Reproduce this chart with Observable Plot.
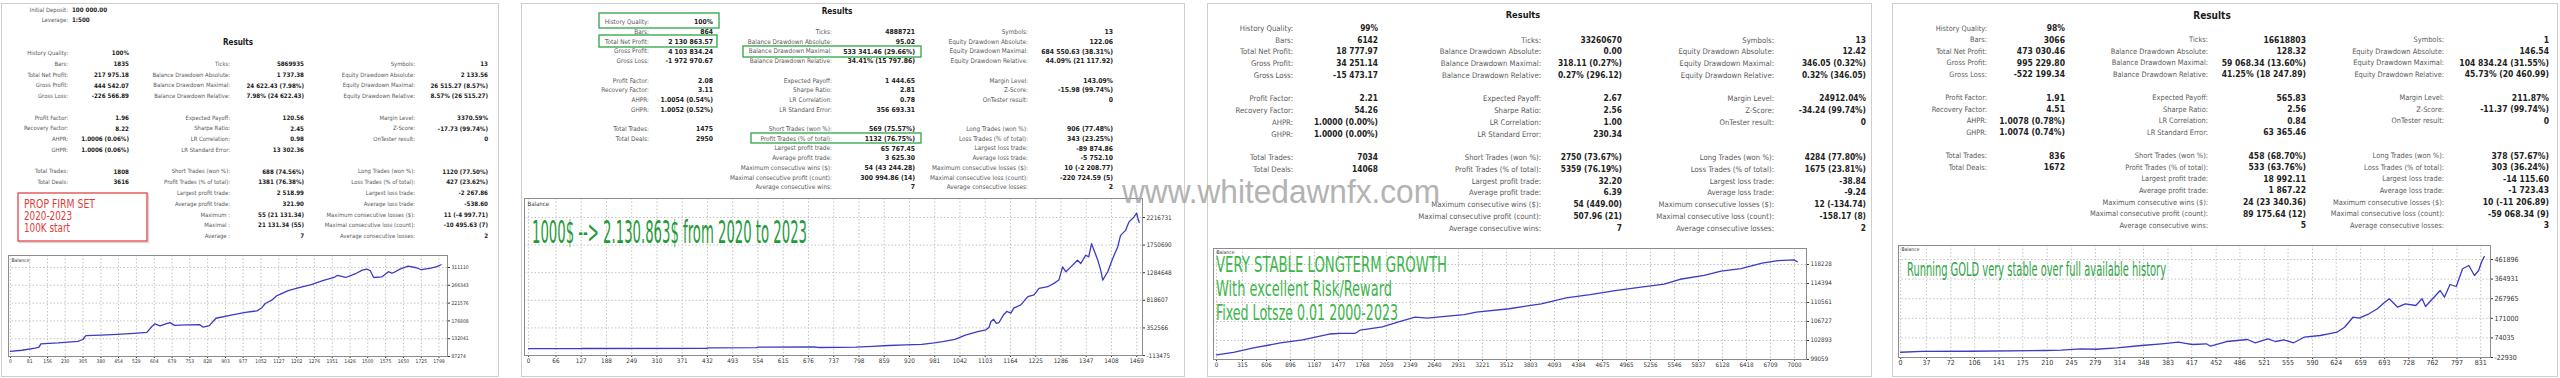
<!DOCTYPE html>
<html><head><meta charset="utf-8">
<script src="https://cdn.jsdelivr.net/npm/d3@7"></script>
<script src="https://cdn.jsdelivr.net/npm/@observablehq/plot@0.6"></script>
<style>
html,body{margin:0;padding:0;background:#fff;width:2560px;height:378px;overflow:hidden}
#root{position:relative;width:2560px;height:378px}
.panel{position:absolute;border:1px solid #cfcfcf;box-sizing:border-box;background:#fff}
.chart{position:absolute}
#overlay{position:absolute;left:0;top:0;pointer-events:none}
</style></head><body><div id="root"></div>
<script>
// ---------------- DATA ----------------
const col1Labels = ["History Quality:","Bars:","Total Net Profit:","Gross Profit:","Gross Loss:","Profit Factor:","Recovery Factor:","AHPR:","GHPR:","Total Trades:","Total Deals:",null,null,null,null,null];
const col2Labels = [null,"Ticks:","Balance Drawdown Absolute:","Balance Drawdown Maximal:","Balance Drawdown Relative:","Expected Payoff:","Sharpe Ratio:","LR Correlation:","LR Standard Error:","Short Trades (won %):","Profit Trades (% of total):","Largest profit trade:","Average profit trade:","Maximum consecutive wins ($):","Maximal consecutive profit (count):","Average consecutive wins:"];
const col2LabelsPanel1 = [null,"Ticks:","Balance Drawdown Absolute:","Balance Drawdown Maximal:","Balance Drawdown Relative:","Expected Payoff:","Sharpe Ratio:","LR Correlation:","LR Standard Error:","Short Trades (won %):","Profit Trades (% of total):","Largest profit trade:","Average profit trade:","Maximum :","Maximal :","Average :"];
const col3Labels = [null,"Symbols:","Equity Drawdown Absolute:","Equity Drawdown Maximal:","Equity Drawdown Relative:","Margin Level:","Z-Score:","OnTester result:",null,"Long Trades (won %):","Loss Trades (% of total):","Largest loss trade:","Average loss trade:","Maximum consecutive losses ($):","Maximal consecutive loss (count):","Average consecutive losses:"];

const headerLabels1 = ["Initial Deposit:","Leverage:"];
const headerValues1 = ["100 000.00","1:500"];

const p1Col1 = ["100%","1835","217 975.18","444 542.07","-226 566.89","1.96","8.22","1.0006 (0.06%)","1.0006 (0.06%)","1808","3616",null,null,null,null,null];
const p1Col2 = [null,"5869935","1 737.38","24 622.43 (7.98%)","7.98% (24 622.43)","120.56","2.45","0.98","13 302.36","688 (74.56%)","1381 (76.38%)","2 518.99","321.90","55 (21 131.34)","21 131.34 (55)","7"];
const p1Col3 = [null,"13","2 133.56","26 515.27 (8.57%)","8.57% (26 515.27)","3370.59%","-17.73 (99.74%)","0",null,"1120 (77.50%)","427 (23.62%)","-2 267.86","-538.60","11 (-4 997.71)","-10 495.63 (7)","2"];

const p2Col1 = ["100%","864","2 130 863.57","4 103 834.24","-1 972 970.67","2.08","3.11","1.0054 (0.54%)","1.0052 (0.52%)","1475","2950",null,null,null,null,null];
const p2Col2 = [null,"4888721","95.02","533 341.46 (29.66%)","34.41% (15 797.86)","1 444.65","2.81","0.78","356 693.31","569 (75.57%)","1132 (76.75%)","65 767.45","3 625.30","54 (43 244.28)","300 994.86 (14)","7"];
const p2Col3 = [null,"13","122.06","684 550.63 (38.31%)","44.09% (21 117.92)","143.09%","-15.98 (99.74%)","0",null,"906 (77.48%)","343 (23.25%)","-89 874.86","-5 752.10","10 (-2 208.77)","-220 724.59 (5)","2"];

const p3Col1 = ["99%","6142","18 777.97","34 251.14","-15 473.17","2.21","54.26","1.0000 (0.00%)","1.0000 (0.00%)","7034","14068",null,null,null,null,null];
const p3Col2 = [null,"33260670","0.00","318.11 (0.27%)","0.27% (296.12)","2.67","2.56","1.00","230.34","2750 (73.67%)","5359 (76.19%)","32.20","6.39","54 (449.00)","507.96 (21)","7"];
const p3Col3 = [null,"13","12.42","346.05 (0.32%)","0.32% (346.05)","24912.04%","-34.24 (99.74%)","0",null,"4284 (77.80%)","1675 (23.81%)","-38.84","-9.24","12 (-134.74)","-158.17 (8)","2"];

const p4Col1 = ["98%","3066","473 030.46","995 229.80","-522 199.34","1.91","4.51","1.0078 (0.78%)","1.0074 (0.74%)","836","1672",null,null,null,null,null];
const p4Col2 = [null,"16618803","128.32","59 068.34 (13.60%)","41.25% (18 247.89)","565.83","2.56","0.84","63 365.46","458 (68.70%)","533 (63.76%)","18 992.11","1 867.22","24 (23 340.36)","89 175.64 (12)","5"];
const p4Col3 = [null,"1","146.54","104 834.24 (31.55%)","45.73% (20 460.99)","211.87%","-11.37 (99.74%)","0",null,"378 (57.67%)","303 (36.24%)","-14 115.60","-1 723.43","10 (-11 206.89)","-59 068.34 (9)","3"];

// Balance curves (trade number, balance)
const p1Trades = [0,48,104,120,128,200,283,304,317,380,449,518,573,593,607,628,669,690,738,794,810,835,863,932,987,1035,1056,1070,1097,1118,1132,1166,1208,1263,1311,1359,1373,1408,1449,1477,1497,1511,1525,1559,1587,1601,1608,1635,1670,1704,1725,1760,1787,1808];
const p1Balance = [100000,103000,108500,111000,119000,121500,125500,130000,140000,141000,143000,145500,148000,162000,169500,164500,172500,165500,167000,167500,161000,165000,183500,192000,198000,202000,210000,220500,229000,240000,243500,253000,260000,268000,278000,286000,291500,286000,295500,304500,307000,303000,286000,287500,300500,297000,298000,307000,314500,310500,305500,309000,312500,317975];

const p2Trades = [0,125,130,430,436,550,556,690,700,750,790,830,870,910,950,980,1000,1030,1055,1085,1105,1112,1117,1123,1130,1136,1148,1155,1165,1172,1189,1206,1221,1233,1254,1269,1281,1290,1298,1310,1326,1334,1346,1353,1360,1375,1382,1387,1399,1411,1423,1430,1442,1450,1462,1469,1472,1475];
const p2Balance = [1000,2000,5000,9000,16000,20000,28000,30000,22000,24000,28000,42000,55000,65000,75000,100000,120000,160000,230000,290000,320000,360000,460000,500000,430000,440000,580000,630000,602000,686000,741000,881000,909000,1021000,1048000,1104000,1160000,1383000,1300000,1383000,1496000,1440000,1580000,1551000,1775000,1496000,1328000,1160000,1300000,1524000,1719000,1915000,1999000,2138000,2222000,2290000,2200000,2131863];

const p3Trades = [0,206,448,774,1043,1367,1500,1682,1742,2009,2205,2405,2553,2800,3001,3146,3545,3933,4235,4525,4828,5118,5421,5614,5905,6111,6353,6607,6800,6994,7034];
const p3Balance = [100000,100500,101400,102400,103000,104200,104350,104350,105000,105650,106650,107600,107400,107800,108100,108600,109300,110300,111500,112150,112950,113600,114250,115250,116050,116900,117400,118500,119000,119150,118778];

const p4Trades = [0,31,100,206,230,258,280,310,345,374,398,408,418,438,444,467,497,508,526,537,549,563,578,601,613,625,636,648,657,671,683,691,700,712,723,738,747,752,764,773,779,787,796,805,814,822,828,832,836];
const p4Balance = [3000,6900,8000,11700,14000,20100,18000,25000,36400,44800,52800,47000,41400,44800,32900,56200,66100,49800,69600,56200,64600,49800,77500,85900,94200,102200,126900,176400,171500,193200,218000,242700,267400,225900,242700,234300,267400,229400,275400,308500,275400,338200,328300,415900,432200,382700,407500,448500,476030];

const p1XTicks = [0,81,156,230,305,380,454,529,604,679,753,828,903,977,1052,1127,1202,1276,1351,1426,1500,1575,1650,1725,1799];
const p1YTicks = [87274,132041,176808,221576,266343,311110];
const p2XTicks = [0,66,127,188,249,310,371,432,493,554,615,676,737,798,859,920,981,1042,1103,1164,1225,1286,1347,1408,1469];
const p2YTicks = [-113475,352566,818607,1284648,1750690,2216731];
const p3XTicks = [0,315,606,896,1187,1477,1768,2059,2349,2640,2931,3221,3512,3803,4093,4384,4675,4965,5256,5546,5837,6128,6418,6709,7000];
const p3YTicks = [99059,102893,106727,110561,114394,118228];
const p4XTicks = [0,37,72,106,141,175,210,245,279,314,348,383,417,452,486,521,555,590,624,659,693,728,762,797,831];
const p4YTicks = [-22930,74035,171000,267965,364931,461896];

const chartTitle = "Balance";
const resultsTitle = "Results";
const note1 = ["PROP FIRM SET","2020-2023","100K start"];
const note2 = ["1000$ --> 2.130.863$ from 2020 to 2023"];
const note3 = ["VERY STABLE LONGTERM GROWTH","With excellent Risk/Reward","Fixed Lotsze 0.01 2000-2023"];
const note4 = ["Running GOLD very stable over full available history"];
const watermark = "www.whitedawnfx.com";

// ---------------- LAYOUT ----------------
const FONT = '"DejaVu Sans Condensed","DejaVu Sans",sans-serif';
const rowK = [0,1,2,3,4,6,7,8,9,11,12,13,14,15,16,17];
const panels = [
 {box:[1,3,499,377], res:[238,42,8], top:53, pitch:10.76, cols:[68,129,230,304,415,488], lfs:5.9, vfs:6.2,
  labels:[col1Labels,col2LabelsPanel1,col3Labels], vals:[p1Col1,p1Col2,p1Col3],
  chart:{frame:[8,255,447,356], mR:26, mB:12, fs:5, bfs:5, bdy:3, xd:[-8,1835], yd:[87274,341293], t:p1Trades, b:p1Balance, xt:p1XTicks, yt:p1YTicks}},
 {box:[521,3,1185,377], res:[837,11,8.2], top:22, pitch:9.7, cols:[649,713,832,915,1028,1113], lfs:6.4, vfs:6.8,
  labels:[col1Labels,col2Labels,col3Labels], vals:[p2Col1,p2Col2,p2Col3],
  chart:{frame:[524,198,1142,355], mR:34, mB:14, fs:6.3, bfs:6, bdy:3, xd:[-10,1483], yd:[-113475,2537485], t:p2Trades, b:p2Balance, xt:p2XTicks, yt:p2YTicks}},
 {box:[1207,3,1872,377], res:[1523,15,9.2], top:28, pitch:11.75, cols:[1293,1378,1541,1622,1774,1866], lfs:7.7, vfs:8.3,
  labels:[col1Labels,col2Labels,col3Labels], vals:[p3Col1,p3Col2,p3Col3],
  chart:{frame:[1213,248,1806,359], mR:40, mB:14, fs:6.2, bfs:5, bdy:2, xd:[-36,7145], yd:[99059,121456], t:p3Trades, b:p3Balance, xt:p3XTicks, yt:p3YTicks}},
 {box:[1892,3,2558,377], res:[2212,15,10], top:28, pitch:11.6, cols:[1987,2065,2208,2306,2444,2549], lfs:7.4, vfs:8.5,
  labels:[col1Labels,col2Labels,col3Labels], vals:[p4Col1,p4Col2,p4Col3],
  chart:{frame:[1898,245,2490,357], mR:34, mB:14, fs:7, bfs:5, bdy:2, xd:[-3,845], yd:[-22930,531157], t:p4Trades, b:p4Balance, xt:p4XTicks, yt:p4YTicks}}
];

const root = document.getElementById("root");

// panel boxes
for (const p of panels) {
  const d = document.createElement("div");
  d.className = "panel";
  d.style.left = p.box[0]+"px"; d.style.top = p.box[1]+"px";
  d.style.width = (p.box[2]-p.box[0])+"px"; d.style.height = (p.box[3]-p.box[1])+"px";
  root.appendChild(d);
}

// charts
for (const p of panels) {
  const c = p.chart;
  const data = c.t.map((t,i)=>({t, b:c.b[i]}));
  const fw = c.frame[2]-c.frame[0], fh = c.frame[3]-c.frame[1];
  const mL = 1, mT = 1;
  const svg = Plot.plot({
    width: fw+mL+c.mR, height: fh+mT+c.mB,
    marginLeft: mL, marginTop: mT, marginRight: c.mR, marginBottom: c.mB,
    style: {fontFamily: FONT, fontSize: c.fs+"px", color: "#333", background: "transparent", overflow: "visible", fontStretch: "condensed"},
    x: {domain: c.xd, ticks: c.xt, tickFormat: d => String(d), tickSize: 2, tickPadding: 1, label: null},
    y: {domain: c.yd, ticks: c.yt, tickFormat: d => String(d), tickSize: 2, tickPadding: 2, label: null, axis: "right"},
    marks: [
      Plot.gridX(c.xt, {stroke: "#c4c4c4", strokeOpacity: 1, strokeDasharray: "1.5,2"}),
      Plot.gridY(c.yt, {stroke: "#c4c4c4", strokeOpacity: 1, strokeDasharray: "1.5,2"}),
      Plot.line(data, {x: "t", y: "b", stroke: "#3b3bc6", strokeWidth: 1.3}),
      Plot.frame({stroke: "#8c8c8c"}),
      Plot.text([chartTitle], {text: d => d, frameAnchor: "top-left", dx: 3, dy: c.bdy, fontSize: c.bfs, fill: "#333"})
    ]
  });
  svg.classList.add("chart");
  svg.style.left = (c.frame[0]-mL)+"px";
  svg.style.top = (c.frame[1]-mT)+"px";
  root.appendChild(svg);
}

// text overlay
const ov = d3.select(root).append("svg").attr("id","overlay").attr("width",2560).attr("height",378)
  .style("font-family", FONT).style("font-stretch","condensed");

function txt(x, y, s, size, opts = {}) {
  const t = ov.append("text").attr("x", x).attr("y", y).text(s)
    .attr("font-size", size).attr("fill", opts.fill || "#222")
    .attr("text-anchor", opts.anchor || "start");
  if (opts.bold) t.attr("font-weight", "bold");
  if (opts.len) t.attr("textLength", opts.len).attr("lengthAdjust", "spacingAndGlyphs");
  if (opts.family) t.style("font-family", opts.family).style("font-stretch", "normal");
  if (opts.opacity) t.attr("opacity", opts.opacity);
  return t;
}

for (const p of panels) {
  txt(p.res[0], p.res[1] + p.res[2]*0.36, resultsTitle, p.res[2], {bold: true, anchor: "middle", fill: "#1a1a1a"});
  rowK.forEach((k, r) => {
    const yc = p.top + p.pitch*k;
    for (let c = 0; c < 3; c++) {
      const lab = p.labels[c][r], val = p.vals[c][r];
      if (lab) txt(p.cols[2*c], yc + p.lfs*0.36, lab, p.lfs, {anchor: "end", fill: "#5a5a5a"});
      if (val) txt(p.cols[2*c+1], yc + p.vfs*0.36, val, p.vfs, {anchor: "end", bold: true, fill: "#222"});
    }
  });
}
// panel 1 header
[10, 20].forEach((y, i) => {
  txt(68, y + 2.1, headerLabels1[i], 5.9, {anchor: "end", fill: "#5a5a5a"});
  txt(72, y + 2.2, headerValues1[i], 6.2, {bold: true});
});

// panel 2 green highlight boxes
const gBoxes = [[599,13,719,28],[599,35,717,47],[743,46,921,57],[751,133,921,143]];
for (const b of gBoxes) {
  ov.append("rect").attr("x", b[0]).attr("y", b[1]).attr("width", b[2]-b[0]).attr("height", b[3]-b[1])
    .attr("fill", "none").attr("stroke", "#3cab52").attr("stroke-width", 1.4);
}

// panel 1 red note box
ov.append("rect").attr("x", 19.5).attr("y", 194.5).attr("width", 129).attr("height", 48)
  .attr("fill", "none").attr("stroke", "#d8d8d8").attr("stroke-width", 1.5);
ov.append("rect").attr("x", 18).attr("y", 193).attr("width", 129).attr("height", 48)
  .attr("fill", "#fff").attr("stroke", "#e24444").attr("stroke-width", 1.3);
const n1len = [71, 48, 46];
note1.forEach((s, i) => txt(24, 207.5 + i*12, s, 12, {fill: "#e03a3a", len: n1len[i]}));

// chart annotations
txt(532, 243, note2[0], 32, {fill: "#1f9a3b", len: 275});
const n3len = [231, 176, 182];
note3.forEach((s, i) => txt(1216, 272 + i*24, s, 21, {fill: "#3cb54a", len: n3len[i]}));
txt(1907, 276, note4[0], 19, {fill: "#2ea444", len: 259});

// watermark
txt(1122, 203, watermark, 34, {fill: "#a6a6a6", len: 318, family: '"Liberation Sans",Arial,sans-serif', opacity: 0.85});
</script></body></html>
